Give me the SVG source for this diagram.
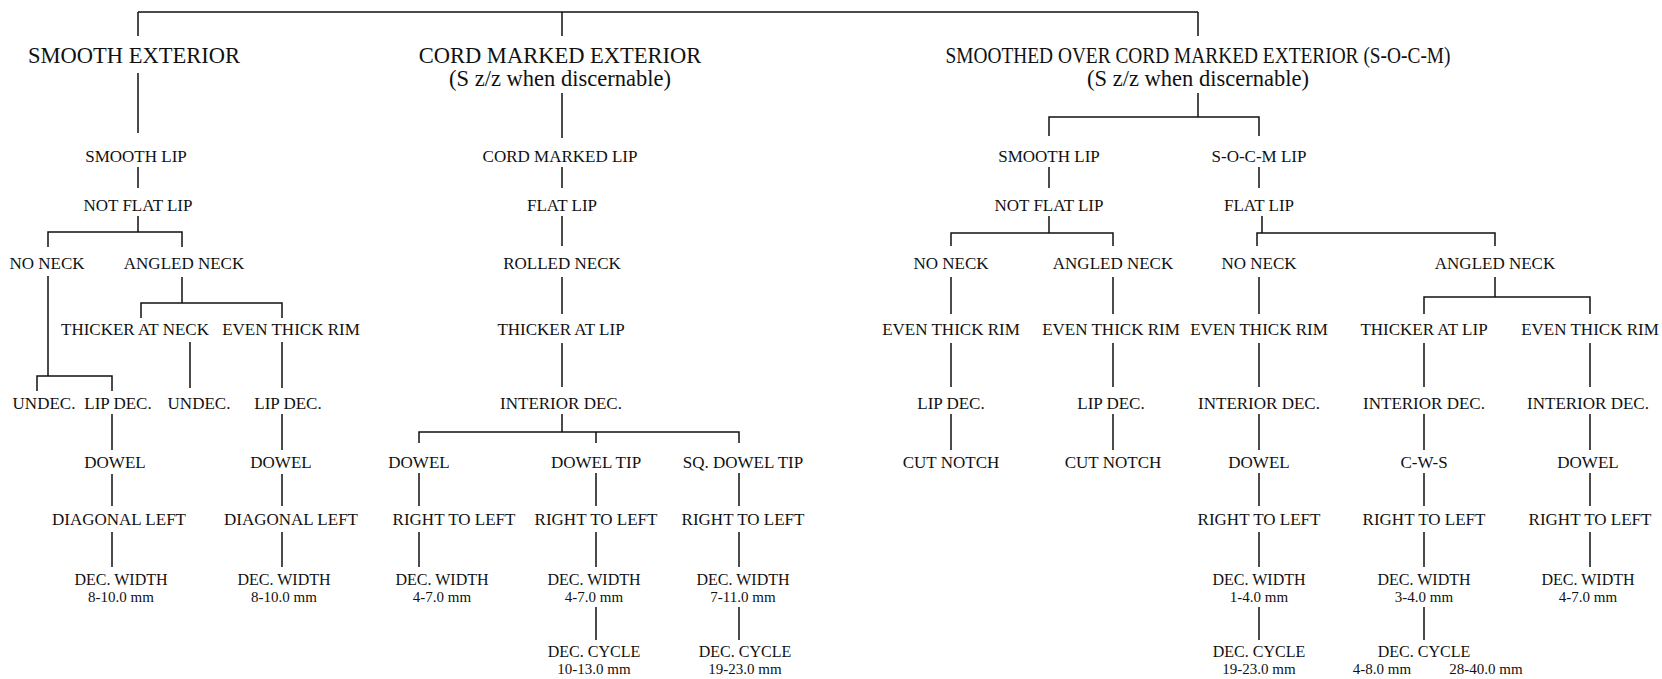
<svg xmlns="http://www.w3.org/2000/svg" width="1662" height="679" viewBox="0 0 1662 679">
<style>
text{font-family:"Liberation Serif","Times New Roman",serif;font-size:17px;fill:#111;text-anchor:middle}
.h{font-size:22.5px}
.w{font-size:16px}
.m{font-size:15px}
.c path{stroke:#111;stroke-width:1.5;fill:none}
</style>
<rect width="1662" height="679" fill="#fff"/>
<g class="c" id="connectors">
<path d="M138 12H1198M138 12V36M562 12V36M1198 12V36"/>
<path d="M138 73V133M138 167V188M138 216V232M48 247V232H182V247"/>
<path d="M48 276V376M37 391V376H112V391M182 277V303M141 318V303H282V318"/>
<path d="M190 342V388M282 342V388M112 414V450M282 414V450M112 474V506M282 474V506M112 532V567M282 532V567"/>
<path d="M562 93V138M562 167V188M562 216V246M562 277V314M562 343V387M562 414V432M419 443V432H739V443M596 432V443"/>
<path d="M419 473V506M596 473V506M739 473V506M419 532V567M596 532V567M739 532V567M596 607V640M739 607V640"/>
<path d="M1198 93V117M1049 136V117H1259V136M1049 167V188M1259 167V188"/>
<path d="M1049 216V233M951 246V233H1113V246M1262 216V233M1257 246V233H1495V246"/>
<path d="M951 277V314M1113 277V314M1259 277V314M1495 277V297M1424 314V297H1590V314"/>
<path d="M951 343V387M1113 343V387M1259 343V387M1424 343V387M1590 343V387"/>
<path d="M951 414V450M1113 414V450M1259 414V450M1424 414V450M1590 414V450"/>
<path d="M1259 473V506M1424 473V506M1590 473V506M1259 532V567M1424 532V567M1590 532V567M1259 607V640M1424 607V640"/>
</g>
<g id="smooth-exterior"><text class="h" x="134" y="62.5">SMOOTH EXTERIOR</text></g>
<g id="l-smooth-lip"><text x="136" y="162">SMOOTH LIP</text></g>
<g id="l-not-flat-lip"><text x="138" y="211">NOT FLAT LIP</text></g>
<g id="l-no-neck"><text x="47" y="269">NO NECK</text></g>
<g id="l-angled-neck"><text x="184" y="269">ANGLED NECK</text></g>
<g id="l-thicker-neck"><text x="135" y="335">THICKER AT NECK</text></g>
<g id="l-even-rim"><text x="291" y="335">EVEN THICK RIM</text></g>
<g id="l-undec-1"><text x="44" y="409">UNDEC.</text></g>
<g id="l-lipdec-1"><text x="118" y="409">LIP DEC.</text></g>
<g id="l-undec-2"><text x="199" y="409">UNDEC.</text></g>
<g id="l-lipdec-2"><text x="288" y="409">LIP DEC.</text></g>
<g id="l-dowel-1"><text x="115" y="468">DOWEL</text></g>
<g id="l-dowel-2"><text x="281" y="468">DOWEL</text></g>
<g id="l-diag-1"><text x="119" y="525">DIAGONAL LEFT</text></g>
<g id="l-diag-2"><text x="291" y="525">DIAGONAL LEFT</text></g>
<g id="l-width-1"><text class="w" x="121" y="585">DEC. WIDTH</text><text class="m" x="121" y="602">8-10.0 mm</text></g>
<g id="l-width-2"><text class="w" x="284" y="585">DEC. WIDTH</text><text class="m" x="284" y="602">8-10.0 mm</text></g>
<g id="cord-exterior"><text class="h" x="560" y="62.5">CORD MARKED EXTERIOR</text><text class="h" x="560" y="86">(S z/z when discernable)</text></g>
<g id="m-cord-lip"><text x="560" y="162">CORD MARKED LIP</text></g>
<g id="m-flat-lip"><text x="562" y="211">FLAT LIP</text></g>
<g id="m-rolled-neck"><text x="562" y="269">ROLLED NECK</text></g>
<g id="m-thicker-lip"><text x="561" y="335">THICKER AT LIP</text></g>
<g id="m-interior"><text x="561" y="409">INTERIOR DEC.</text></g>
<g id="m-dowel"><text x="419" y="468">DOWEL</text></g>
<g id="m-dowel-tip"><text x="596" y="468">DOWEL TIP</text></g>
<g id="m-sq-dowel-tip"><text x="743" y="468">SQ. DOWEL TIP</text></g>
<g id="m-rtl-1"><text x="454" y="525">RIGHT TO LEFT</text></g>
<g id="m-rtl-2"><text x="596" y="525">RIGHT TO LEFT</text></g>
<g id="m-rtl-3"><text x="743" y="525">RIGHT TO LEFT</text></g>
<g id="m-width-1"><text class="w" x="442" y="585">DEC. WIDTH</text><text class="m" x="442" y="602">4-7.0 mm</text></g>
<g id="m-width-2"><text class="w" x="594" y="585">DEC. WIDTH</text><text class="m" x="594" y="602">4-7.0 mm</text></g>
<g id="m-width-3"><text class="w" x="743" y="585">DEC. WIDTH</text><text class="m" x="743" y="602">7-11.0 mm</text></g>
<g id="m-cycle-2"><text class="w" x="594" y="657">DEC. CYCLE</text><text class="m" x="594" y="674">10-13.0 mm</text></g>
<g id="m-cycle-3"><text class="w" x="745" y="657">DEC. CYCLE</text><text class="m" x="745" y="674">19-23.0 mm</text></g>
<g id="socm-exterior"><text class="h" x="1198" y="62.5" textLength="505" lengthAdjust="spacingAndGlyphs">SMOOTHED OVER CORD MARKED EXTERIOR (S-O-C-M)</text><text class="h" x="1198" y="86">(S z/z when discernable)</text></g>
<g id="r-smooth-lip"><text x="1049" y="162">SMOOTH LIP</text></g>
<g id="r-socm-lip"><text x="1259" y="162">S-O-C-M LIP</text></g>
<g id="r-not-flat-lip"><text x="1049" y="211">NOT FLAT LIP</text></g>
<g id="r-flat-lip"><text x="1259" y="211">FLAT LIP</text></g>
<g id="r-no-neck-1"><text x="951" y="269">NO NECK</text></g>
<g id="r-angled-neck-1"><text x="1113" y="269">ANGLED NECK</text></g>
<g id="r-no-neck-2"><text x="1259" y="269">NO NECK</text></g>
<g id="r-angled-neck-2"><text x="1495" y="269">ANGLED NECK</text></g>
<g id="r-even-1"><text x="951" y="335">EVEN THICK RIM</text></g>
<g id="r-even-2"><text x="1111" y="335">EVEN THICK RIM</text></g>
<g id="r-even-3"><text x="1259" y="335">EVEN THICK RIM</text></g>
<g id="r-thicker-lip"><text x="1424" y="335">THICKER AT LIP</text></g>
<g id="r-even-4"><text x="1590" y="335">EVEN THICK RIM</text></g>
<g id="r-lipdec-1"><text x="951" y="409">LIP DEC.</text></g>
<g id="r-lipdec-2"><text x="1111" y="409">LIP DEC.</text></g>
<g id="r-interior-1"><text x="1259" y="409">INTERIOR DEC.</text></g>
<g id="r-interior-2"><text x="1424" y="409">INTERIOR DEC.</text></g>
<g id="r-interior-3"><text x="1588" y="409">INTERIOR DEC.</text></g>
<g id="r-cut-1"><text x="951" y="468">CUT NOTCH</text></g>
<g id="r-cut-2"><text x="1113" y="468">CUT NOTCH</text></g>
<g id="r-dowel-1"><text x="1259" y="468">DOWEL</text></g>
<g id="r-cws"><text x="1424" y="468">C-W-S</text></g>
<g id="r-dowel-2"><text x="1588" y="468">DOWEL</text></g>
<g id="r-rtl-1"><text x="1259" y="525">RIGHT TO LEFT</text></g>
<g id="r-rtl-2"><text x="1424" y="525">RIGHT TO LEFT</text></g>
<g id="r-rtl-3"><text x="1590" y="525">RIGHT TO LEFT</text></g>
<g id="r-width-1"><text class="w" x="1259" y="585">DEC. WIDTH</text><text class="m" x="1259" y="602">1-4.0 mm</text></g>
<g id="r-width-2"><text class="w" x="1424" y="585">DEC. WIDTH</text><text class="m" x="1424" y="602">3-4.0 mm</text></g>
<g id="r-width-3"><text class="w" x="1588" y="585">DEC. WIDTH</text><text class="m" x="1588" y="602">4-7.0 mm</text></g>
<g id="r-cycle-1"><text class="w" x="1259" y="657">DEC. CYCLE</text><text class="m" x="1259" y="674">19-23.0 mm</text></g>
<g id="r-cycle-2"><text class="w" x="1424" y="657">DEC. CYCLE</text><text class="m" x="1382" y="674">4-8.0 mm</text><text class="m" x="1486" y="674">28-40.0 mm</text></g>
</svg>
